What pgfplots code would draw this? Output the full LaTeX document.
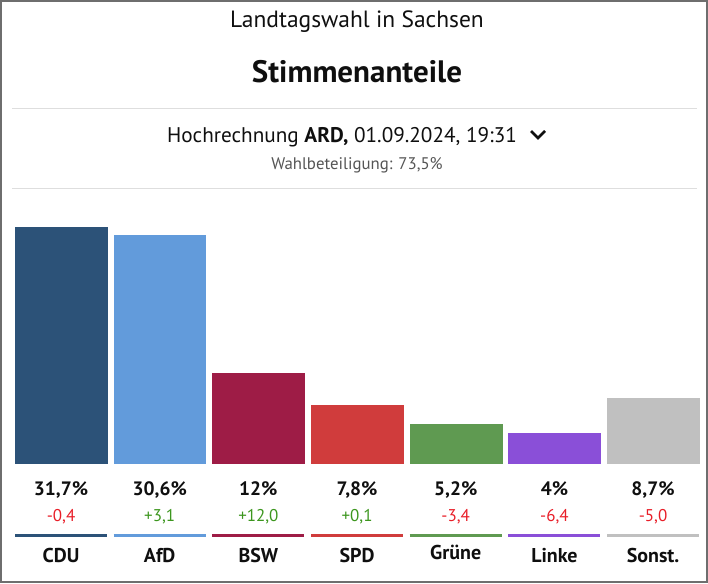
\documentclass[border=0pt]{standalone}
\usepackage{pgfplots}
\pgfplotsset{compat=1.18}
\usepackage{fontspec}
\setmainfont{PT Sans}
\definecolor{framegray}{RGB}{110,110,110}
\definecolor{rulegray}{RGB}{222,222,222}
\definecolor{cCDU}{RGB}{44,82,120}
\definecolor{cAfD}{RGB}{98,155,219}
\definecolor{cBSW}{RGB}{158,28,70}
\definecolor{cSPD}{RGB}{208,60,60}
\definecolor{cGRU}{RGB}{95,154,81}
\definecolor{cLIN}{RGB}{138,79,216}
\definecolor{cSON}{RGB}{192,192,192}
\definecolor{neg}{RGB}{232,30,40}
\definecolor{pos}{RGB}{60,150,30}
\definecolor{txt}{RGB}{15,15,15}
\definecolor{subgray}{RGB}{85,85,85}
\begin{document}
\begin{tikzpicture}
\path[use as bounding box] (0,0) rectangle (708pt,583pt);
\draw[framegray, line width=2pt] (1pt,1pt) rectangle (707pt,582pt);
\draw[rulegray, line width=1pt] (12pt,474pt) -- (697pt,474pt);
\draw[rulegray, line width=1pt] (12pt,394pt) -- (697pt,394pt);
\node[anchor=base, text=txt, font=\fontsize{23.5}{28}\selectfont] at (357pt,555pt) {Landtagswahl in Sachsen};
\node[anchor=base, text=txt, font=\fontsize{31}{36}\selectfont\bfseries] at (357pt,500pt) {Stimmenanteile};
\node[anchor=base, text=txt, font=\fontsize{21.2}{25}\selectfont] at (342pt,440pt) {Hochrechnung \textbf{ARD,} 01.09.2024, 19:31};
\draw[txt, line width=2.5pt] (531pt,452pt) -- (538pt,445pt) -- (545pt,452pt);
\node[anchor=base, text=subgray, font=\fontsize{16.8}{20}\selectfont] at (357pt,413pt) {Wahlbeteiligung: 73,5\%};
\begin{axis}[
  at={(11.7pt,120pt)}, anchor=south west,
  scale only axis, width=690.7pt, height=262.8pt,
  xmin=-0.5, xmax=6.5, ymin=0, ymax=35.3,
  hide axis, clip=false,
  ybar, bar width=0.932, bar shift=0pt,
]
\addplot[fill=cCDU, draw=cCDU] coordinates {(0,31.7)};
\addplot[fill=cAfD, draw=cAfD] coordinates {(1,30.6)};
\addplot[fill=cBSW, draw=cBSW] coordinates {(2,12.0)};
\addplot[fill=cSPD, draw=cSPD] coordinates {(3,7.8)};
\addplot[fill=cGRU, draw=cGRU] coordinates {(4,5.2)};
\addplot[fill=cLIN, draw=cLIN] coordinates {(5,4.0)};
\addplot[fill=cSON, draw=cSON] coordinates {(6,8.7)};
% underlines
\addplot[sharp plot, no marks, cCDU, line width=3pt] coordinates {(-0.466,-9.8) (0.466,-9.8)};
\addplot[sharp plot, no marks, cAfD, line width=3pt] coordinates {(0.534,-9.8) (1.466,-9.8)};
\addplot[sharp plot, no marks, cBSW, line width=3pt] coordinates {(1.534,-9.8) (2.466,-9.8)};
\addplot[sharp plot, no marks, cSPD, line width=3pt] coordinates {(2.534,-9.8) (3.466,-9.8)};
\addplot[sharp plot, no marks, cGRU, line width=3pt] coordinates {(3.534,-9.8) (4.466,-9.8)};
\addplot[sharp plot, no marks, cLIN, line width=3pt] coordinates {(4.534,-9.8) (5.466,-9.8)};
\addplot[sharp plot, no marks, cSON, line width=3pt] coordinates {(5.534,-9.8) (6.466,-9.8)};
\tikzset{pct/.style={anchor=base, text=txt, font=\fontsize{19.4}{23}\selectfont\bfseries},
         chg/.style={anchor=base, font=\fontsize{17}{20}\selectfont},
         nam/.style={anchor=base, text=txt, font=\fontsize{20}{24}\selectfont\bfseries}}
\node[pct] at (axis cs:0,-4.3) {31,7\%};
\node[pct] at (axis cs:1,-4.3) {30,6\%};
\node[pct] at (axis cs:2,-4.3) {12\%};
\node[pct] at (axis cs:3,-4.3) {7,8\%};
\node[pct] at (axis cs:4,-4.3) {5,2\%};
\node[pct] at (axis cs:5,-4.3) {4\%};
\node[pct] at (axis cs:6,-4.3) {8,7\%};
\node[chg, text=neg] at (axis cs:0,-7.9) {-0,4};
\node[chg, text=pos] at (axis cs:1,-7.9) {+3,1};
\node[chg, text=pos] at (axis cs:2,-7.9) {+12,0};
\node[chg, text=pos] at (axis cs:3,-7.9) {+0,1};
\node[chg, text=neg] at (axis cs:4,-7.9) {-3,4};
\node[chg, text=neg] at (axis cs:5,-7.9) {-6,4};
\node[chg, text=neg] at (axis cs:6,-7.9) {-5,0};
\node[nam] at (axis cs:0,-13.3) {CDU};
\node[nam] at (axis cs:1,-13.3) {AfD};
\node[nam] at (axis cs:2,-13.3) {BSW};
\node[nam] at (axis cs:3,-13.3) {SPD};
\node[nam] at (axis cs:4,-13.0) {Grüne};
\node[nam] at (axis cs:5,-13.3) {Linke};
\node[nam] at (axis cs:6,-13.3) {Sonst.};
\end{axis}
\end{tikzpicture}
\end{document}
